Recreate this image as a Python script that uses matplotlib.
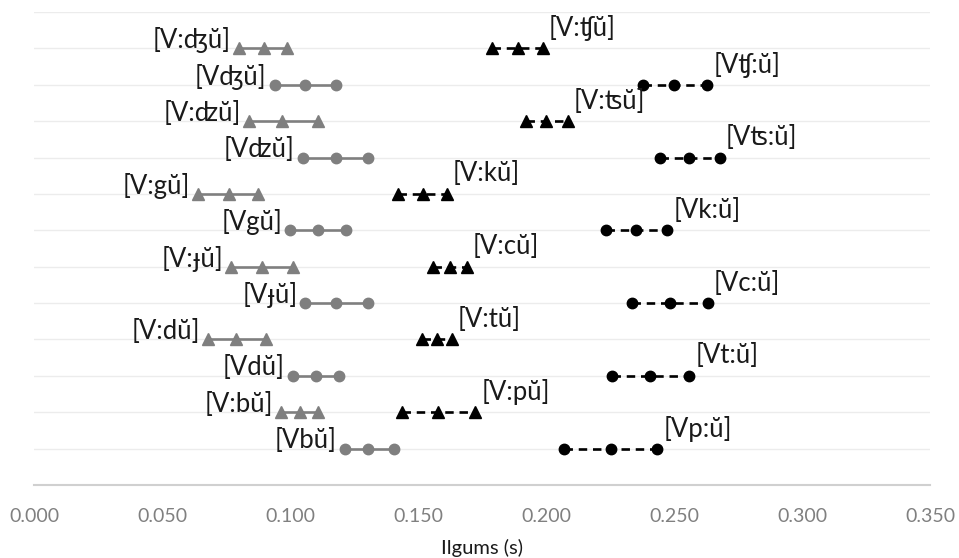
import matplotlib
matplotlib.use("Agg")
import matplotlib.pyplot as plt
import numpy as np

plt.rcParams['font.family'] = ['Lato', 'Noto Sans', 'DejaVu Sans']

# Voiced (gray) series: label, min, mean, max
voiced_labels = ["[V:\u02a4\u016d]", "[V\u02a4\u016d]", "[V:\u02a3\u016d]", "[V\u02a3\u016d]",
                 "[V:g\u016d]", "[Vg\u016d]", "[V:\u025f\u016d]", "[V\u025f\u016d]",
                 "[V:d\u016d]", "[Vd\u016d]", "[V:b\u016d]", "[Vb\u016d]"]
voiced_min = [0.080, 0.094, 0.084, 0.105, 0.064, 0.100, 0.077, 0.106, 0.068, 0.101, 0.0965, 0.1215]
voiced_mean = [0.090, 0.106, 0.097, 0.118, 0.076, 0.111, 0.089, 0.118, 0.079, 0.110, 0.104, 0.1305]
voiced_max = [0.099, 0.118, 0.111, 0.1305, 0.0875, 0.122, 0.101, 0.1305, 0.0905, 0.119, 0.111, 0.1405]

# Voiceless (black) series
voiceless_labels = ["[V:\u02a7\u016d]", "[V\u02a7:\u016d]", "[V:\u02a6\u016d]", "[V\u02a6:\u016d]",
                    "[V:k\u016d]", "[Vk:\u016d]", "[V:c\u016d]", "[Vc:\u016d]",
                    "[V:t\u016d]", "[Vt:\u016d]", "[V:p\u016d]", "[Vp:\u016d]"]
voiceless_min = [0.179, 0.238, 0.192, 0.2445, 0.142, 0.2235, 0.156, 0.2335, 0.1515, 0.2258, 0.1437, 0.207]
voiceless_mean = [0.189, 0.250, 0.200, 0.256, 0.152, 0.235, 0.1625, 0.2484, 0.1574, 0.2406, 0.1578, 0.2254]
voiceless_max = [0.1988, 0.263, 0.2086, 0.268, 0.1613, 0.2473, 0.169, 0.2633, 0.1633, 0.2559, 0.1723, 0.2434]

xticks = [0.0, 0.05, 0.10, 0.15, 0.20, 0.25, 0.30, 0.35]

fig = plt.figure(figsize=(9.59, 5.58), dpi=100)
ax = fig.add_axes([0.0355, 0.1308, 0.9343, 0.8477])

n = len(voiced_labels)
GRAY = '#7f7f7f'
LFS = 18.5

for i in range(n):
    y = n - i
    # voiced
    lab = voiced_labels[i]
    mk = '^' if lab.startswith('[V:') else 'o'
    xs = [voiced_min[i], voiced_mean[i], voiced_max[i]]
    ax.plot(xs, [y] * 3, color=GRAY, lw=1.9, marker=mk, ms=7.5 if mk == 'o' else 8,
            mec=GRAY, mfc=GRAY, zorder=3, solid_capstyle='butt')
    ax.annotate(lab, (voiced_min[i], y), xytext=(-8, 8), textcoords='offset pixels',
                ha='right', va='center', fontsize=LFS, color='#1a1a1a', zorder=4)
    # voiceless
    lab = voiceless_labels[i]
    mk = '^' if lab.startswith('[V:') else 'o'
    xs = [voiceless_min[i], voiceless_mean[i], voiceless_max[i]]
    ax.plot(xs, [y] * 3, color='black', lw=1.9, ls=(0, (3.2, 2.2)), marker=mk,
            ms=7.5 if mk == 'o' else 8, mec='black', mfc='black', zorder=3)
    ax.annotate(lab, (voiceless_max[i], y), xytext=(6, 20), textcoords='offset pixels',
                ha='left', va='center', fontsize=LFS, color='#1a1a1a', zorder=4)

ax.set_xlim(0, 0.35)
ax.set_ylim(0, n + 1)
ax.set_yticks(range(1, n + 2))
ax.yaxis.grid(True, color='#ececec', lw=1.0, zorder=0)
ax.tick_params(axis='y', left=False, labelleft=False)
ax.set_xticks(xticks)
ax.set_xticklabels([f"{v:.3f}" for v in xticks])
ax.tick_params(axis='x', bottom=False, colors='#808080', labelsize=14, pad=13)
for s in ['top', 'right', 'left']:
    ax.spines[s].set_visible(False)
ax.spines['bottom'].set_color('#d0d0d0')
ax.spines['bottom'].set_linewidth(1.5)
ax.set_xlabel("Ilgums (s)", fontsize=14.5, color='#1a1a1a', labelpad=10)
for lbl in ax.get_xticklabels():
    lbl.set_color('#808080')

fig.savefig("out.png", dpi=100)
